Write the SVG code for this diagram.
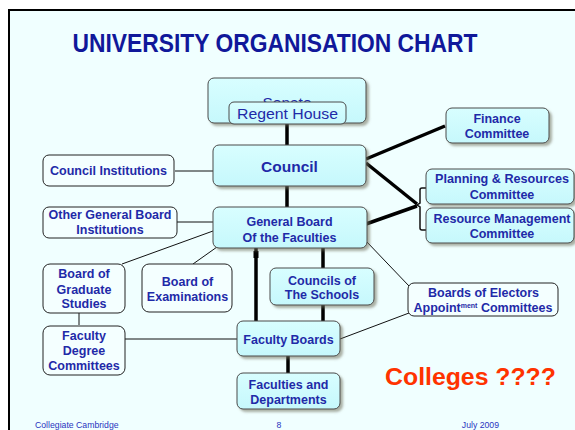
<svg xmlns="http://www.w3.org/2000/svg" width="575" height="430" viewBox="0 0 575 430">
<defs>
<filter id="sh" x="-10%" y="-10%" width="130%" height="140%">
<feDropShadow dx="2.5" dy="2.5" stdDeviation="1.2" flood-color="#6e6e58" flood-opacity="0.55"/>
</filter>
<linearGradient id="cy" x1="0" y1="0" x2="0" y2="1">
<stop offset="0" stop-color="#D8FEFF"/>
<stop offset="1" stop-color="#C6F8FC"/>
</linearGradient>
</defs>
<style>
.cy{fill:url(#cy);stroke:#4a4a4a;stroke-width:1;filter:url(#sh)}
.wh{fill:#F4FFFF;stroke:#222;stroke-width:1}
.t{font-family:"Liberation Sans",Arial,sans-serif;font-weight:bold;font-size:12.5px;fill:#1f2aa8;text-anchor:middle}
.n{font-weight:normal;font-size:15.5px}
.thick{stroke:#000;stroke-width:3.5;fill:none}
.thin{stroke:#111;stroke-width:1;fill:none}
.ft{font-family:"Liberation Sans",Arial,sans-serif;font-size:8.7px;fill:#2a35c0}
</style>
<rect x="0" y="0" width="575" height="430" fill="#ffffff"/>
<rect x="9" y="10" width="590" height="440" fill="#F0FFFF" stroke="#000" stroke-width="2"/>
<text x="275" y="52" font-family="Liberation Sans,Arial,sans-serif" font-weight="bold" font-size="26" fill="#10189a" text-anchor="middle" textLength="405" lengthAdjust="spacingAndGlyphs">UNIVERSITY ORGANISATION CHART</text>

<g id="connectors">
<line class="thick" x1="287" y1="124" x2="287" y2="145"/>
<line class="thick" x1="287" y1="186" x2="287" y2="207"/>
<line class="thick" x1="366" y1="159" x2="445" y2="126"/>
<line class="thick" x1="366" y1="163" x2="417" y2="204"/>
<line class="thick" x1="366" y1="224" x2="417" y2="206"/>
<path class="thin" style="stroke-width:1.5" d="M426,188 H422 Q420,188 420,190 V203 L417,205 L420,207 V228 Q420,230 422,230 H426"/>
<line class="thin" x1="175" y1="171" x2="213" y2="171"/>
<line class="thin" x1="177" y1="222" x2="213" y2="222"/>
<line class="thin" x1="213" y1="231" x2="122" y2="264"/>
<line class="thin" x1="217" y1="247" x2="193" y2="264"/>
<line class="thin" x1="79" y1="313" x2="79" y2="325"/>
<line class="thin" x1="125" y1="339" x2="237" y2="339"/>
<line class="thin" x1="366" y1="241" x2="409" y2="286"/>
<line class="thin" x1="340" y1="339" x2="409" y2="313"/>
<line class="thick" x1="256" y1="248" x2="256" y2="321"/>
<rect x="253.5" y="251" width="5" height="7" fill="#000"/>
<line class="thick" x1="323" y1="248" x2="323" y2="268"/>
<line class="thick" x1="323" y1="305" x2="323" y2="321"/>
<line class="thick" x1="288" y1="356" x2="288" y2="373"/>
</g>

<g id="senate">
<rect class="cy" x="208" y="78" width="158" height="45" rx="6"/>
<text class="t n" x="287" y="108">Senate</text>
</g>
<g id="regent-house">
<rect class="cy" x="229" y="102" width="117" height="22" rx="5" style="filter:none"/>
<text class="t n" x="287.5" y="119" textLength="101" lengthAdjust="spacingAndGlyphs">Regent House</text>
</g>
<g id="council">
<rect class="cy" x="213" y="145" width="153" height="41" rx="6"/>
<text class="t" x="289.5" y="172" style="font-size:15.5px">Council</text>
</g>
<g id="general-board">
<rect class="cy" x="213" y="207" width="154" height="41" rx="6"/>
<text class="t" x="289.5" y="226">General Board</text>
<text class="t" x="289.5" y="242">Of the Faculties</text>
</g>
<g id="finance">
<rect class="cy" x="446" y="108" width="103" height="35" rx="6"/>
<text class="t" x="497" y="123">Finance</text>
<text class="t" x="497" y="138">Committee</text>
</g>
<g id="planning">
<rect class="cy" x="426" y="169" width="148" height="35" rx="6"/>
<text class="t" x="502" y="183" textLength="134" lengthAdjust="spacingAndGlyphs">Planning &amp; Resources</text>
<text class="t" x="502" y="199">Committee</text>
</g>
<g id="resource-management">
<rect class="cy" x="426" y="208" width="148" height="35" rx="6"/>
<text class="t" x="502" y="223" textLength="137" lengthAdjust="spacingAndGlyphs">Resource Management</text>
<text class="t" x="502" y="238">Committee</text>
</g>
<g id="council-institutions">
<rect class="wh" x="43" y="155" width="131" height="31" rx="6"/>
<text class="t" x="108.5" y="175" textLength="117" lengthAdjust="spacingAndGlyphs">Council Institutions</text>
</g>
<g id="other-gb-institutions">
<rect class="wh" x="43" y="207" width="134" height="31" rx="6"/>
<text class="t" x="110" y="219">Other General Board</text>
<text class="t" x="110" y="234">Institutions</text>
</g>
<g id="graduate-studies">
<rect class="wh" x="43" y="264" width="82" height="49" rx="7"/>
<text class="t" x="84" y="278">Board of</text>
<text class="t" x="84" y="294">Graduate</text>
<text class="t" x="84" y="308">Studies</text>
</g>
<g id="examinations">
<rect class="wh" x="142" y="264" width="90" height="48" rx="7"/>
<text class="t" x="187.5" y="286">Board of</text>
<text class="t" x="187.5" y="301">Examinations</text>
</g>
<g id="faculty-degree">
<rect class="wh" x="43" y="326" width="82" height="49" rx="7"/>
<text class="t" x="84" y="340">Faculty</text>
<text class="t" x="84" y="355">Degree</text>
<text class="t" x="84" y="370">Committees</text>
</g>
<g id="councils-schools">
<rect class="cy" x="270" y="268" width="104" height="37" rx="6"/>
<text class="t" x="322" y="285">Councils of</text>
<text class="t" x="322" y="299">The Schools</text>
</g>
<g id="faculty-boards">
<rect class="cy" x="237" y="321" width="103" height="35" rx="6"/>
<text class="t" x="288.5" y="344">Faculty Boards</text>
</g>
<g id="faculties-departments">
<rect class="cy" x="237" y="373" width="103" height="36" rx="6"/>
<text class="t" x="288.5" y="389">Faculties and</text>
<text class="t" x="288.5" y="404">Departments</text>
</g>
<g id="boards-electors">
<rect class="wh" x="408" y="283" width="150" height="33" rx="6"/>
<text class="t" x="483.5" y="297" textLength="111" lengthAdjust="spacingAndGlyphs">Boards of Electors</text>
<text class="t" x="483" y="312">Appoint<tspan font-size="7" dy="-4">ment</tspan><tspan dy="4"> Committees</tspan></text>
</g>
<text x="470.5" y="385" font-family="Liberation Sans,Arial,sans-serif" font-weight="bold" font-size="24.8" fill="#FF3300" text-anchor="middle">Colleges ????</text>
<text class="ft" x="35" y="428">Collegiate Cambridge</text>
<text class="ft" x="279" y="428" text-anchor="middle">8</text>
<text class="ft" x="499" y="428" text-anchor="end">July 2009</text>
</svg>
